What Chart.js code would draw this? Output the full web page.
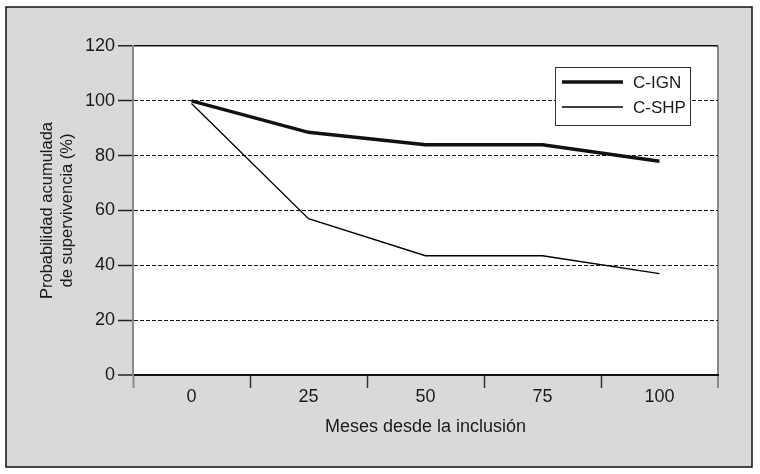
<!DOCTYPE html>
<html>
<head>
<meta charset="utf-8">
<script src="https://cdn.jsdelivr.net/npm/chart.js@4"></script>
<style>
  html, body { margin: 0; padding: 0; background: #fff; }
  #wrap { width: 760px; height: 474px; position: relative; }
</style>
</head>
<body>
<div id="wrap"><canvas id="c" width="760" height="474"></canvas></div>
<script>
const categories = ['0', '25', '50', '75', '100'];
const seriesIGN = [100, 88.5, 84, 84, 78];
const seriesSHP = [99, 57, 43.5, 43.5, 37];
const seriesNames = ['C-IGN', 'C-SHP'];
const yMin = 0, yMax = 120, yStep = 20;
const yTitle = ['Probabilidad acumulada', 'de supervivencia (%)'];
const xTitle = 'Meses desde la inclusión';

const FONT = "'Liberation Sans', Arial, sans-serif";
const TXT = '#1a1a1a';

const framePlugin = {
  id: 'frame',
  beforeDraw(chart) {
    const ctx = chart.ctx;
    const a = chart.chartArea;
    ctx.save();
    ctx.fillStyle = '#ffffff';
    ctx.fillRect(0, 0, chart.width, chart.height);
    ctx.fillStyle = '#d9d9d9';
    ctx.fillRect(6, 7, 746, 460);
    ctx.strokeStyle = '#111';
    ctx.lineWidth = 1.5;
    ctx.strokeRect(6, 7, 746, 460);
    ctx.fillStyle = '#ffffff';
    ctx.fillRect(a.left, a.top, a.right - a.left, a.bottom - a.top);
    ctx.restore();
  }
};

const legendPlugin = {
  id: 'boxLegend',
  afterDatasetsDraw(chart) {
    const ctx = chart.ctx;
    const x0 = 555, y0 = 67, w = 135, h = 58;
    ctx.save();
    ctx.fillStyle = '#fff';
    ctx.fillRect(x0, y0, w, h);
    ctx.strokeStyle = '#333';
    ctx.lineWidth = 1;
    ctx.strokeRect(x0 + 0.5, y0 + 0.5, w, h);
    chart.data.datasets.forEach((ds, i) => {
      const y = 82 + i * 25;
      ctx.strokeStyle = ds.borderColor;
      ctx.lineWidth = ds.borderWidth;
      ctx.beginPath();
      ctx.moveTo(562, y);
      ctx.lineTo(623, y);
      ctx.stroke();
      ctx.fillStyle = TXT;
      ctx.font = '17px ' + FONT;
      ctx.textAlign = 'left';
      ctx.textBaseline = 'middle';
      ctx.fillText(ds.label, 633, y + 1);
    });
    ctx.restore();
  }
};

new Chart(document.getElementById('c'), {
  type: 'line',
  data: {
    labels: categories,
    datasets: [
      { label: seriesNames[0], data: seriesIGN, borderColor: '#111', borderWidth: 3.5, tension: 0, pointRadius: 0, fill: false },
      { label: seriesNames[1], data: seriesSHP, borderColor: '#000', borderWidth: 1.3, tension: 0, pointRadius: 0, fill: false }
    ]
  },
  plugins: [framePlugin, legendPlugin],
  options: {
    responsive: false,
    animation: false,
    layout: { padding: { left: 0, top: 46, right: 42, bottom: 0 } },
    plugins: { legend: { display: false }, tooltip: { enabled: false } },
    scales: {
      x: {
        type: 'category',
        offset: true,
        afterFit(s) { s.height = 99; },
        grid: {
          offset: true,
          drawOnChartArea: true,
          color: c => c.tick ? 'rgba(0,0,0,0)' : '#8a8a8a',
          lineWidth: c => c.tick ? 1 : 2,
          tickColor: c => (!c.tick || c.index === 0) ? '#8a8a8a' : '#333',
          tickWidth: c => (!c.tick || c.index === 0) ? 2 : 1.5,
          tickLength: 13
        },
        border: { display: true, color: '#111', width: 2 },
        ticks: { color: TXT, font: { family: FONT, size: 18 }, padding: -2, maxRotation: 0 },
        title: { display: true, text: xTitle, color: TXT, font: { family: FONT, size: 18 }, padding: { top: 0, bottom: 36 } }
      },
      y: {
        min: yMin,
        max: yMax,
        afterFit(s) { s.width = 133; },
        grid: {
          color: '#111',
          lineWidth: c => (c.tick && c.tick.value === 0) ? 2 : (c.tick && c.tick.value === yMax ? 1.5 : 1),
          tickColor: '#222',
          tickWidth: 1.5,
          tickLength: 15,
          tickBorderDash: []
        },
        border: {
          display: true,
          color: '#8a8a8a',
          width: 2,
          dash: c => (c.tick && (c.tick.value === 0 || c.tick.value === yMax)) ? [] : [4, 2]
        },
        ticks: { stepSize: yStep, color: TXT, font: { family: FONT, size: 18 }, padding: 3 },
        title: { display: true, text: yTitle, color: TXT, font: { family: FONT, size: 16.5 }, padding: { top: 38, bottom: 0 } }
      }
    }
  }
});
</script>
</body>
</html>
